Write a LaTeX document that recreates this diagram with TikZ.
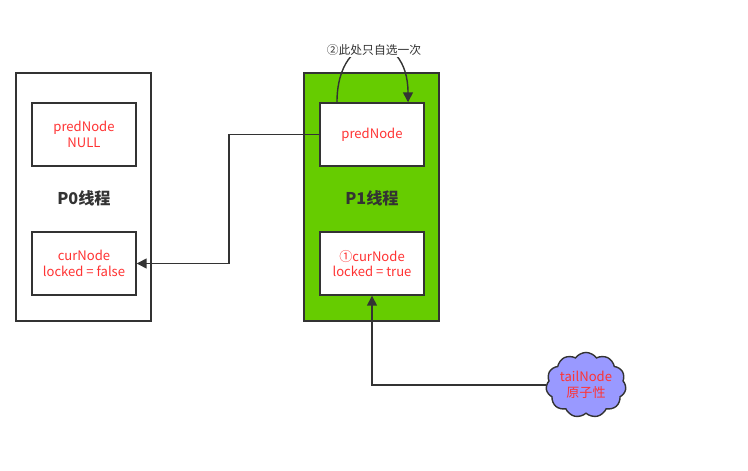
\documentclass[tikz,border=0pt]{standalone}
\usepackage{fontspec}
\setmainfont{Noto Sans CJK SC}
\usetikzlibrary{positioning}
\usetikzlibrary{arrows.meta}
\usetikzlibrary{shapes.symbols}

\definecolor{threadgreen}{HTML}{66CC00}
\definecolor{cloudblue}{HTML}{9999FF}
\definecolor{nodered}{HTML}{FF3333}
\definecolor{linegray}{HTML}{333333}

\tikzset{
    thread/.style={draw=linegray, line width=1pt, minimum width=3.375cm, minimum height=6.2cm},
    field/.style={draw=linegray, line width=1pt, fill=white, text=nodered, align=center,
        font=\fontsize{9.3}{11}\selectfont, minimum width=2.6cm, minimum height=1.575cm},
    title/.style={font=\fontsize{11.5}{13}\selectfont\bfseries, text=linegray},
    conn/.style={draw=linegray, line width=1pt, -{Triangle[length=7pt,width=7pt]}},
}

\begin{document}
\begin{tikzpicture}[x=0.025cm, y=-0.025cm]
        \useasboundingbox (0,0) rectangle (748,471);

        % P0 thread
        \node[thread, name=p0] at (83.5,197) {};
        \node[field, name=pred0] at (84,134.5) {predNode\\NULL};
        \node[title, name=t0] at (84,198) {P0线程};
        \node[field, name=cur0] at (84,263.5) {curNode\\locked = false};

        % P1 thread
        \node[thread, fill=threadgreen, name=p1] at (371.5,197) {};
        \node[field, name=pred1] at (372,134.5) {predNode};
        \node[title, name=t1] at (372,198) {P1线程};
        \node[field, name=cur1] at (372,263.5) {①curNode\\locked = true};

        % tail
        \node[cloud, cloud puffs=11, cloud puff arc=110, aspect=1.3, draw=linegray, line width=1pt,
            fill=cloudblue, text=nodered, align=center, font=\fontsize{9.3}{11}\selectfont,
            minimum width=2cm, minimum height=1.55cm, inner sep=0pt, name=tail] at (586,385) {tailNode\\原子性};

        \coordinate (bend) at (229,200);
        \draw[conn] (pred1.west) -| (bend) |- (cur0.east);
        \draw[conn] (tail.west) -| (cur1.south);

        % spin once
        \draw[conn] ([xshift=-0.875cm]pred1.north) .. controls +(0,-75) and +(0,-75) .. ([xshift=0.9cm]pred1.north);
        \node[fill=white, inner sep=1pt, text=linegray, font=\fontsize{8.4}{10}\selectfont, name=spin] at (374,50) {②此处只自选一次};
    \end{tikzpicture}
\end{document}
